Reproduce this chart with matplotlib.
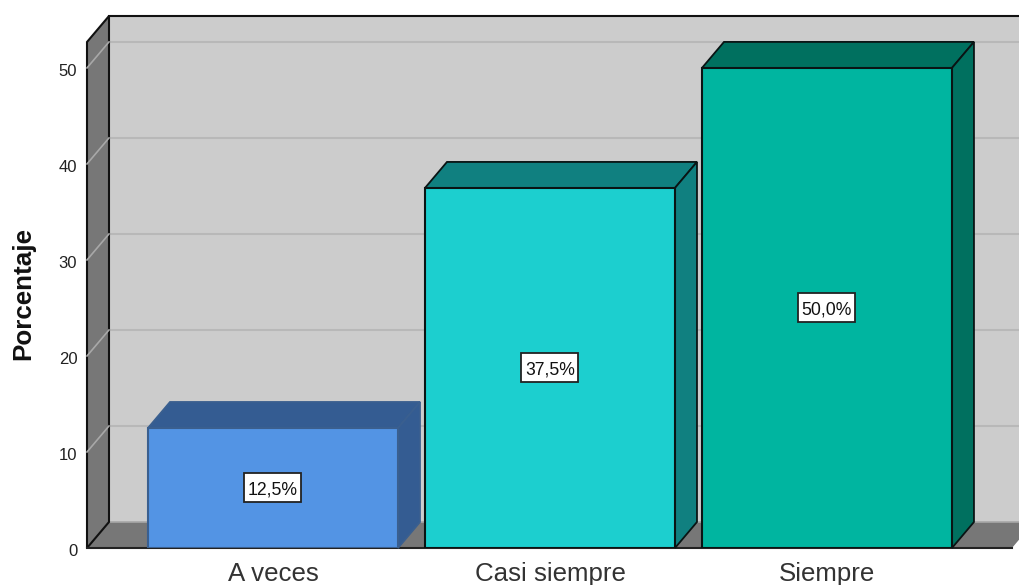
import matplotlib
matplotlib.use('Agg')
import matplotlib.pyplot as plt
from matplotlib.patches import Polygon, Rectangle
from matplotlib.transforms import ScaledTranslation

categories = ['A veces', 'Casi siempre', 'Siempre']
percentages = [12.5, 37.5, 50.0]
bar_labels = ['12,5%', '37,5%', '50,0%']
y_ticks = [0, 10, 20, 30, 40, 50]

front_colors = ['#5394E4', '#1CCFCF', '#00B5A0']
dark_colors = ['#345C92', '#108080', '#00705F']
edge_colors = ['#3A5F8F', '#0A1414', '#0A1414']

plt.rcParams['font.family'] = ['Liberation Sans', 'DejaVu Sans']

fig = plt.figure(figsize=(10.19, 5.85), dpi=100)
ax = fig.add_axes([87 / 1019, 37 / 585, 925 / 1019, 506 / 585])

x0, x1 = -0.6715, 2.668
y_top = 52.7
ax.set_xlim(x0, x1)
ax.set_ylim(0, y_top)
ax.patch.set_visible(False)
for s in ax.spines.values():
    s.set_visible(False)

# depth of the fake 3d box, 22px across and 26px up
dx = 22 / 277
dy = 26 / 9.6
width = 250 / 277


def poly(pts, fc, ec='none', lw=1.2, z=1):
    ax.add_patch(Polygon(pts, closed=True, facecolor=fc, edgecolor=ec, linewidth=lw,
                         clip_on=False, zorder=z))


# back wall, left wall, floor
right = x1 + dx + 0.2
poly([(x0 + dx, dy), (right, dy), (right, y_top + dy), (x0 + dx, y_top + dy)], '#CCCCCC')
poly([(x0, 0), (x1, 0), (x1 + dx, dy), (x0 + dx, dy)], '#777777')
poly([(x0, 0), (x0 + dx, dy), (x0 + dx, y_top + dy), (x0, y_top)], '#777777', '#111111', 1.5, 2)

for t in y_ticks[1:]:
    ax.plot([x0 + dx, right], [t + dy, t + dy], color='#B8B8B8', lw=1.5, clip_on=False, zorder=1.5)
    ax.plot([x0, x0 + dx], [t, t + dy], color='#A8A8A8', lw=1.2, clip_on=False, zorder=3)

ax.plot([x0 + dx, right], [y_top + dy, y_top + dy], color='#111111', lw=1.5, clip_on=False, zorder=3)
ax.plot([x0, x1], [0, 0], color='#222222', lw=1.5, clip_on=False, zorder=3)
ax.plot([x0 + dx, right], [dy, dy], color='#A8A8A8', lw=1.2, clip_on=False, zorder=1.5)

xs = list(range(len(categories)))
ax.bar(xs, percentages, width=width, color=front_colors, edgecolor=edge_colors, linewidth=1.5, zorder=5)

# label boxes are 57x29 px
box_w = 57 / 277
box_h = 29 / 9.6
for i, v in enumerate(percentages):
    l, r = i - width / 2, i + width / 2
    poly([(l, v), (r, v), (r + dx, v + dy), (l + dx, v + dy)], dark_colors[i], edge_colors[i], 1.3, 4)
    poly([(r, 0), (r + dx, dy), (r + dx, v + dy), (r, v)], dark_colors[i], edge_colors[i], 1.3, 4)
    ax.add_patch(Rectangle((i - box_w / 2, v / 2 - box_h / 2), box_w, box_h, facecolor='white',
                           edgecolor='#222222', linewidth=1.3, zorder=6))
    ax.text(i, v / 2, bar_labels[i], ha='center', va='center_baseline', fontsize=12.7, color='#111111', zorder=7)

ax.set_xticks(xs)
ax.set_xticklabels(categories, fontsize=18.6, color='#333333')
ax.set_yticks(y_ticks)
ax.set_yticklabels([str(t) for t in y_ticks], fontsize=12, color='#222222')
ax.tick_params(axis='both', length=0)
ax.tick_params(axis='x', pad=10)
ax.tick_params(axis='y', pad=7)

# y tick labels sit about 2px under their gridline
shift = ScaledTranslation(0, -2 / 100, fig.dpi_scale_trans)
for lab in ax.get_yticklabels():
    lab.set_transform(lab.get_transform() + shift)

fig.text(23 / 1019, 1 - 294 / 585, 'Porcentaje', rotation=90, ha='center', va='center',
         fontsize=18.7, fontweight='bold', color='#111111')

fig.savefig('out.png', dpi=100)
